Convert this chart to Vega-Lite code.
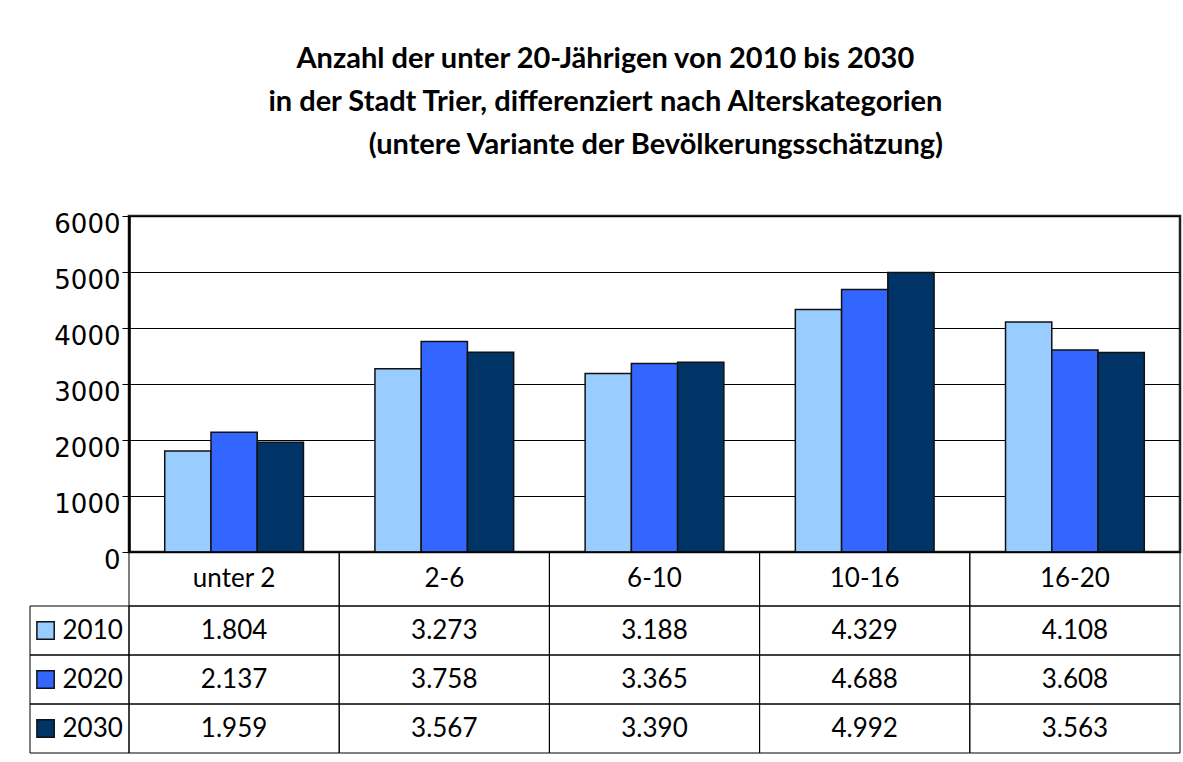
{
  "$schema": "https://vega.github.io/schema/vega-lite/v6.json",
  "background": "white",
  "padding": {"left": 29, "top": 44, "right": 3, "bottom": 10},
  "autosize": {"type": "pad"},
  "bounds": "flush",
  "spacing": 0,
  "columns": 2,
  "title": {
    "text": ["Anzahl der unter 20-Jährigen von 2010 bis 2030", "in der Stadt Trier, differenziert nach Alterskategorien", "\u200b\u2003\u2003\u2003\u2003\u00a0\u00a0(untere Variante der Bevölkerungsschätzung)"],
    "anchor": "middle",
    "font": "Lato",
    "fontSize": 29,
    "fontWeight": "bold",
    "color": "black",
    "lineHeight": 43,
    "offset": 50
  },
  "config": {
    "locale": {"number": {"decimal": ",", "thousands": ".", "grouping": [3], "currency": ["", " €"]}},
    "view": {"stroke": null}
  },
  "datasets": {
    "d": [
      {"Kategorie": "unter 2", "Jahr": "2010", "Anzahl": 1804},
      {"Kategorie": "unter 2", "Jahr": "2020", "Anzahl": 2137},
      {"Kategorie": "unter 2", "Jahr": "2030", "Anzahl": 1959},
      {"Kategorie": "2-6", "Jahr": "2010", "Anzahl": 3273},
      {"Kategorie": "2-6", "Jahr": "2020", "Anzahl": 3758},
      {"Kategorie": "2-6", "Jahr": "2030", "Anzahl": 3567},
      {"Kategorie": "6-10", "Jahr": "2010", "Anzahl": 3188},
      {"Kategorie": "6-10", "Jahr": "2020", "Anzahl": 3365},
      {"Kategorie": "6-10", "Jahr": "2030", "Anzahl": 3390},
      {"Kategorie": "10-16", "Jahr": "2010", "Anzahl": 4329},
      {"Kategorie": "10-16", "Jahr": "2020", "Anzahl": 4688},
      {"Kategorie": "10-16", "Jahr": "2030", "Anzahl": 4992},
      {"Kategorie": "16-20", "Jahr": "2010", "Anzahl": 4108},
      {"Kategorie": "16-20", "Jahr": "2020", "Anzahl": 3608},
      {"Kategorie": "16-20", "Jahr": "2030", "Anzahl": 3563}
    ]
  },
  "resolve": {"scale": {"x": "independent", "y": "independent"}},
  "concat": [
    {
      "width": 99, "height": 336,
      "data": {"values": []},
      "mark": {"type": "text"},
      "encoding": {}
    },
    {
      "width": 1051, "height": 336,
      "data": {"name": "d"},
      "view": {"stroke": "#222", "strokeWidth": 2.5},
      "layer": [
        {
          "mark": {"type": "bar", "stroke": "#111", "strokeWidth": 1.5},
          "encoding": {
            "x": {"field": "Kategorie", "type": "nominal", "sort": ["unter 2", "2-6", "6-10", "10-16", "16-20"], "scale": {"paddingInner": 0.34, "paddingOuter": 0.17}, "axis": null},
            "xOffset": {"field": "Jahr", "type": "nominal", "sort": ["2010", "2020", "2030"], "scale": {"paddingInner": 0, "paddingOuter": 0}},
            "y": {
              "field": "Anzahl", "type": "quantitative",
              "scale": {"domain": [0, 6000], "nice": false},
              "axis": {
                "values": [0, 1000, 2000, 3000, 4000, 5000, 6000],
                "format": "d",
                "title": null,
                "domainColor": "black", "domainWidth": 2.5,
                "tickColor": "black", "tickSize": 7, "tickWidth": 1,
                "labelFont": "DejaVu Sans", "labelFontSize": 26, "labelColor": "black",
                "labelPadding": 2, "labelOffset": 8,
                "grid": true, "gridColor": "black", "gridWidth": 1, "gridOpacity": 1
              }
            },
            "color": {"field": "Jahr", "type": "nominal", "scale": {"domain": ["2010", "2020", "2030"], "range": ["#99CCFF", "#3366FF", "#003366"]}, "legend": null}
          }
        }
      ]
    },
    {
      "width": 99, "height": 54,
      "data": {"values": []},
      "mark": {"type": "text"},
      "encoding": {}
    },
    {
      "width": 1051, "height": 54,
      "data": {"name": "d"},
      "transform": [{"filter": "datum.Jahr == '2010'"}],
      "encoding": {
        "x": {"field": "Kategorie", "type": "nominal", "sort": ["unter 2", "2-6", "6-10", "10-16", "16-20"], "scale": {"paddingInner": 0, "paddingOuter": 0}, "axis": null}
      },
      "layer": [
        {"mark": {"type": "rect", "fill": "white", "fillOpacity": 0, "stroke": "black", "strokeWidth": 1}},
        {"mark": {"type": "text", "font": "Lato", "fontSize": 26, "color": "black"}, "encoding": {"text": {"field": "Kategorie"}}}
      ]
    },
    {
      "width": 99, "height": 147,
      "data": {"name": "d"},
      "transform": [{"filter": "datum.Kategorie == 'unter 2'"}],
      "encoding": {
        "y": {"field": "Jahr", "type": "nominal", "sort": ["2010", "2020", "2030"], "scale": {"paddingInner": 0, "paddingOuter": 0}, "axis": null}
      },
      "layer": [
        {"mark": {"type": "rect", "fill": "white", "fillOpacity": 0, "stroke": "black", "strokeWidth": 1}},
        {
          "mark": {"type": "point", "shape": "square", "filled": true, "size": 300, "stroke": "#111", "strokeWidth": 1.5, "opacity": 1},
          "encoding": {
            "x": {"datum": "Symbol", "type": "nominal", "scale": {"type": "point", "domain": ["Symbol", "Jahr"], "padding": 0.55, "align": 0.3}, "axis": null},
            "color": {"field": "Jahr", "type": "nominal", "legend": null}
          }
        },
        {
          "mark": {"type": "text", "font": "Lato", "fontSize": 26, "color": "black"},
          "encoding": {
            "x": {"datum": "Jahr", "type": "nominal"},
            "text": {"field": "Jahr"}
          }
        }
      ]
    },
    {
      "width": 1051, "height": 147,
      "data": {"name": "d"},
      "encoding": {
        "x": {"field": "Kategorie", "type": "nominal", "sort": ["unter 2", "2-6", "6-10", "10-16", "16-20"], "scale": {"paddingInner": 0, "paddingOuter": 0}, "axis": null},
        "y": {"field": "Jahr", "type": "nominal", "sort": ["2010", "2020", "2030"], "scale": {"paddingInner": 0, "paddingOuter": 0}, "axis": null}
      },
      "layer": [
        {"mark": {"type": "rect", "fill": "white", "fillOpacity": 0, "stroke": "black", "strokeWidth": 1}},
        {"mark": {"type": "text", "font": "Lato", "fontSize": 26, "color": "black"}, "encoding": {"text": {"field": "Anzahl", "type": "quantitative", "format": ",d"}}}
      ]
    }
  ]
}
